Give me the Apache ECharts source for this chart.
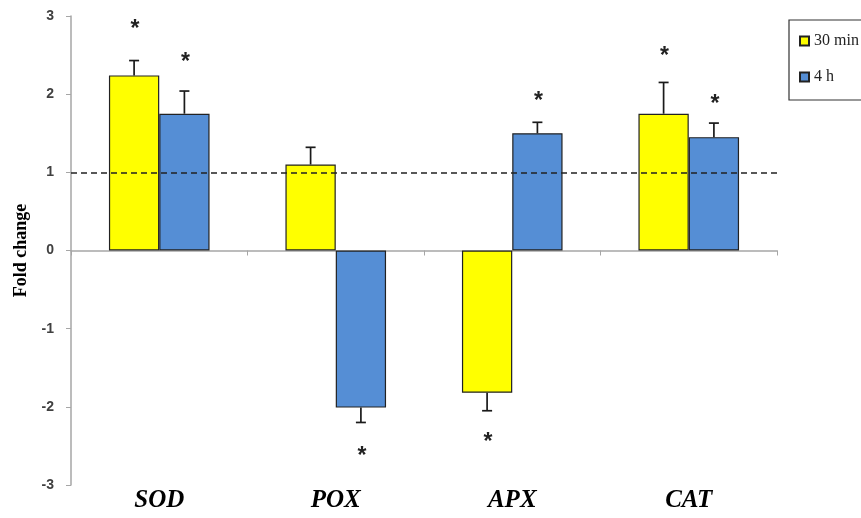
<!DOCTYPE html>
<html>
<head>
<meta charset="utf-8">
<script src="https://cdn.jsdelivr.net/npm/echarts@6/dist/echarts.min.js"></script>
<style>html,body{margin:0;padding:0;background:#fff}#c{width:861px;height:518px}</style>
</head>
<body>
<div id="c"></div>
<script>
var categories = ['SOD', 'POX', 'APX', 'CAT'];
var yTicks = [-3, -2, -1, 0, 1, 2, 3];
var seriesNames = ['30 min', '4 h'];
var values30min = [2.24, 1.10, -1.82, 1.75];
var error30min = [2.43, 1.32, -2.05, 2.15];
var star30min = [2.88, null, -2.41, 2.53];
var values4h = [1.75, -2.01, 1.50, 1.45];
var error4h = [2.04, -2.20, 1.64, 1.63];
var star4h = [2.45, -2.59, 1.96, 1.92];
var referenceLine = 1;

var colors = ['#FFFF00', '#558ED5'];
var chart = echarts.init(document.getElementById('c'));

function errData(vals, errs, stars) {
  return vals.map(function (v, i) { return [i, v, errs[i], stars[i] == null ? NaN : stars[i]]; });
}

function makeRender(side) {
  return function (params, api) {
    var idx = api.value(0);
    var band = api.size([1, 0])[0];
    var off = band * 0.1425 * side;
    var p0 = api.coord([idx, api.value(1)]);
    var p1 = api.coord([idx, api.value(2)]);
    var x = p0[0] + off;
    var children = [
      { type: 'line', shape: { x1: x, y1: p0[1], x2: x, y2: p1[1] }, style: { stroke: '#1a1a1a', lineWidth: 1.7 } },
      { type: 'line', shape: { x1: x - 5, y1: p1[1], x2: x + 5, y2: p1[1] }, style: { stroke: '#1a1a1a', lineWidth: 1.7 } }
    ];
    var s = api.value(3);
    if (!isNaN(s)) {
      var ps = api.coord([idx, s]);
      children.push({ type: 'text', style: { text: '*', x: x + 1, y: ps[1] + 4, align: 'center', verticalAlign: 'middle', fontSize: 23, fontWeight: 'bold', fontFamily: 'Liberation Sans', fill: '#222' } });
    }
    return { type: 'group', children: children };
  };
}

var option = {
  animation: false,
  backgroundColor: '#fff',
  grid: { left: 71, right: 84, top: 16, bottom: 33 },
  legend: {
    orient: 'vertical', left: 789, top: 20,
    data: seriesNames,
    borderColor: '#333', borderWidth: 1.2, padding: [13, 40, 15, 10],
    itemWidth: 9, itemHeight: 9, itemGap: 20, icon: 'rect',
    textStyle: { fontFamily: 'Liberation Serif', fontSize: 16, color: '#222' }
  },
  xAxis: [
    {
      type: 'category', data: categories, position: 'bottom',
      axisLine: { onZero: true, lineStyle: { color: '#a6a6a6', width: 1.5 } },
      axisTick: { show: true, length: 5, lineStyle: { color: '#a6a6a6' } },
      axisLabel: { show: false }, splitLine: { show: false }
    },
    {
      type: 'category', data: categories, position: 'bottom',
      axisLine: { show: false, onZero: false }, axisTick: { show: false },
      axisLabel: { show: true, margin: 3, fontFamily: 'Liberation Serif', fontStyle: 'italic', fontWeight: 'bold', fontSize: 25, color: '#000' },
      splitLine: { show: false }
    }
  ],
  yAxis: {
    type: 'value', min: yTicks[0], max: yTicks[yTicks.length - 1], interval: 1,
    name: 'Fold change', nameLocation: 'middle', nameGap: 41, nameRotate: 90,
    nameTextStyle: { fontFamily: 'Liberation Serif', fontWeight: 'bold', fontSize: 18, color: '#000' },
    axisLine: { show: true, lineStyle: { color: '#a6a6a6', width: 1.5 } },
    axisTick: { show: true, length: 5, lineStyle: { color: '#a6a6a6' } },
    axisLabel: { margin: 17, fontFamily: 'Liberation Sans', fontWeight: 'bold', fontSize: 14, color: '#404040' },
    splitLine: { show: false }
  },
  series: [
    {
      name: seriesNames[0], type: 'bar', data: values30min, xAxisIndex: 0,
      barGap: '0%', barCategoryGap: '43%',
      itemStyle: { color: colors[0], borderColor: '#222', borderWidth: 1.2 },
      markLine: {
        silent: true, symbol: 'none', label: { show: false },
        lineStyle: { type: [6, 4], color: '#222', width: 1.6 },
        data: [{ yAxis: referenceLine }]
      }
    },
    {
      name: seriesNames[1], type: 'bar', data: values4h, xAxisIndex: 0,
      barGap: '0%', barCategoryGap: '43%',
      itemStyle: { color: colors[1], borderColor: '#222', borderWidth: 1.2 }
    },
    {
      type: 'custom', xAxisIndex: 0, renderItem: makeRender(-1),
      data: errData(values30min, error30min, star30min), encode: { x: 0, y: [1, 2] }, z: 5
    },
    {
      type: 'custom', xAxisIndex: 0, renderItem: makeRender(1),
      data: errData(values4h, error4h, star4h), encode: { x: 0, y: [1, 2] }, z: 5
    }
  ]
};
chart.setOption(option);
</script>
</body>
</html>
